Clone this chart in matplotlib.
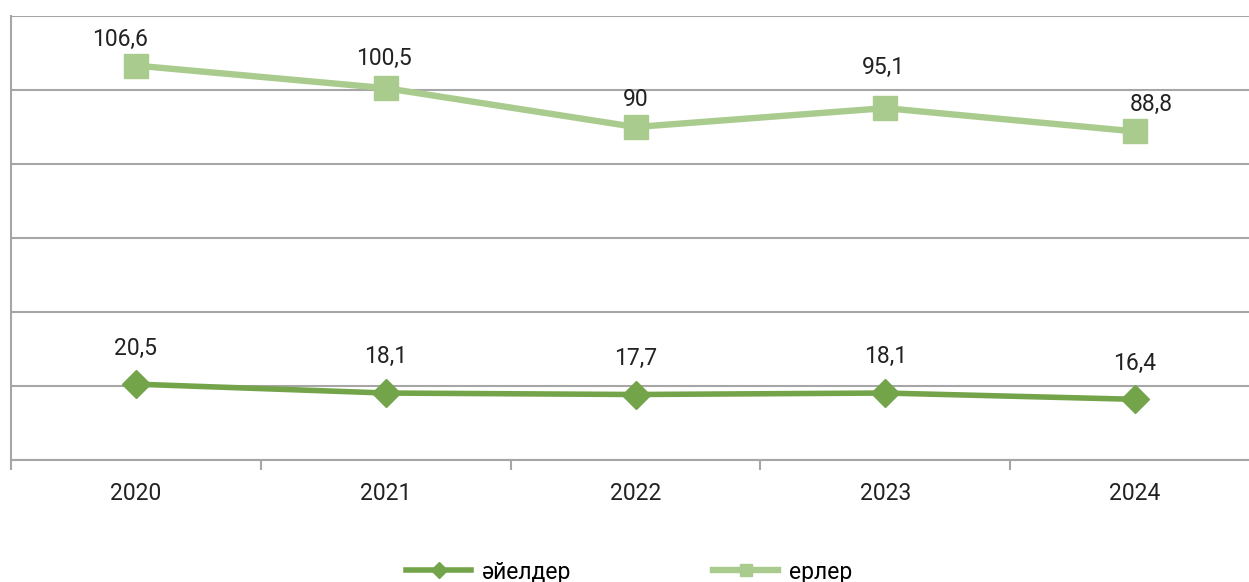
import matplotlib.pyplot as plt

years = ["2020", "2021", "2022", "2023", "2024"]
women = [20.5, 18.1, 17.7, 18.1, 16.4]
men = [106.6, 100.5, 90, 95.1, 88.8]
women_labels = ["20,5", "18,1", "17,7", "18,1", "16,4"]
men_labels = ["106,6", "100,5", "90", "95,1", "88,8"]

# label nudges (points), the men's labels were placed by hand in the original
men_dx = [-11.5, -1.5, 0, -1.5, 12]
men_dy = [19, 21.5, 19.5, 29, 19.5]

plt.rcParams['font.family'] = ['Roboto', 'DejaVu Sans']

W, H = 1249, 582
fig = plt.figure(figsize=(W / 100, H / 100), dpi=100)
# plot area runs past the right edge, as in the reference crop
ax = fig.add_axes([11 / W, (H - 460) / H, 1249 / W, 444 / H])

x = list(range(len(years)))
dark = '#74A44A'
light = '#A9CC8E'
fs = 16.5

ax.plot(x, women, color=dark, lw=4.0, marker='D', ms=14, label='әйелдер', zorder=3)
ax.plot(x, men, color=light, lw=4.6, marker='s', ms=17, label='ерлер', zorder=3)

for i in x:
    ax.annotate(women_labels[i], (i, women[i]), xytext=(0, 26), textcoords='offset points',
                ha='center', va='center', fontsize=fs, color='#222222')
    ax.annotate(men_labels[i], (i, men[i]), xytext=(men_dx[i], men_dy[i]),
                textcoords='offset points', ha='center', va='center',
                fontsize=fs, color='#222222')

ax.set_xlim(-0.5, 4.5)
ax.set_ylim(0, 120)
ax.set_yticks(range(0, 121, 20))
ax.set_yticklabels([])
ax.tick_params(axis='y', length=0)
ax.grid(axis='y', color='#A6A6A6', lw=1.5)
ax.set_axisbelow(True)

ax.set_xticks([i - 0.5 for i in range(6)])
ax.set_xticklabels([])
ax.set_xticks(x, minor=True)
ax.set_xticklabels(years, minor=True, fontsize=fs, color='#222222')
ax.tick_params(axis='x', which='major', length=7, width=1.5, color='#A6A6A6', direction='out')
ax.tick_params(axis='x', which='minor', length=0, pad=16)

for side in ['top', 'right']:
    ax.spines[side].set_visible(False)
for side in ['left', 'bottom']:
    ax.spines[side].set_color('#A6A6A6')
    ax.spines[side].set_linewidth(1.5)

fig.legend(loc='center', bbox_to_anchor=(629 / W, (H - 572) / H), ncol=2, frameon=False,
           fontsize=fs, handlelength=2.85, columnspacing=6.2, handletextpad=0.45,
           markerscale=0.55)

fig.savefig('out.png', dpi=100)
